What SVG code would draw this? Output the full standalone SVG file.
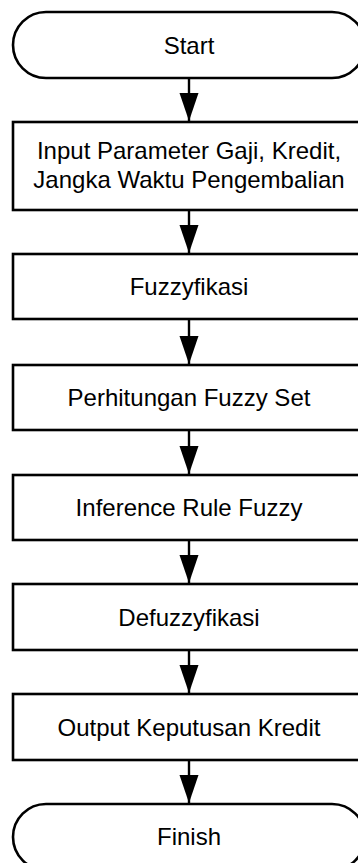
<svg xmlns="http://www.w3.org/2000/svg" width="358" height="863" viewBox="0 0 358 863">
<style>
.box{fill:#fff;stroke:#000;stroke-width:2.6}
.lbl{font-family:"Liberation Sans",Arial,sans-serif;font-size:24px;fill:#000;text-anchor:middle}
.con{stroke:#000;stroke-width:2.4;fill:none;marker-end:url(#ah)}
</style>
<defs>
<marker id="ah" markerUnits="userSpaceOnUse" markerWidth="28" markerHeight="20" refX="28" refY="10" orient="auto" viewBox="0 0 28 20">
<path d="M0,0.5 L28,10 L0,19.5 Z" fill="#000"/>
</marker>
</defs>
<rect width="358" height="863" fill="#fff"/>
<g id="start">
<rect class="box" x="13" y="12" width="352" height="66" rx="33" ry="33"/>
<text class="lbl" x="189" y="53.5">Start</text>
</g>
<g id="input">
<rect class="box" x="13" y="122" width="352" height="88"/>
<text class="lbl" x="189" y="159">Input Parameter Gaji, Kredit,</text>
<text class="lbl" x="189" y="188">Jangka Waktu Pengembalian</text>
</g>
<g id="fuzzyfikasi">
<rect class="box" x="13" y="254" width="352" height="65"/>
<text class="lbl" x="189" y="295">Fuzzyfikasi</text>
</g>
<g id="perhitungan">
<rect class="box" x="13" y="365" width="352" height="65"/>
<text class="lbl" x="189" y="406">Perhitungan Fuzzy Set</text>
</g>
<g id="inference">
<rect class="box" x="13" y="475" width="352" height="65"/>
<text class="lbl" x="189" y="516">Inference Rule Fuzzy</text>
</g>
<g id="defuzzyfikasi">
<rect class="box" x="13" y="584" width="352" height="66"/>
<text class="lbl" x="189" y="625.5">Defuzzyfikasi</text>
</g>
<g id="output">
<rect class="box" x="13" y="694" width="352" height="66"/>
<text class="lbl" x="189" y="735.5">Output Keputusan Kredit</text>
</g>
<g id="finish">
<rect class="box" x="13" y="804" width="352" height="66" rx="33" ry="33"/>
<text class="lbl" x="189" y="845">Finish</text>
</g>
<g id="connectors">
<path class="con" d="M189,79 V121"/>
<path class="con" d="M189,211 V253"/>
<path class="con" d="M189,320 V364"/>
<path class="con" d="M189,431 V474"/>
<path class="con" d="M189,541 V583"/>
<path class="con" d="M189,651 V693"/>
<path class="con" d="M189,761 V803"/>
</g>
</svg>
